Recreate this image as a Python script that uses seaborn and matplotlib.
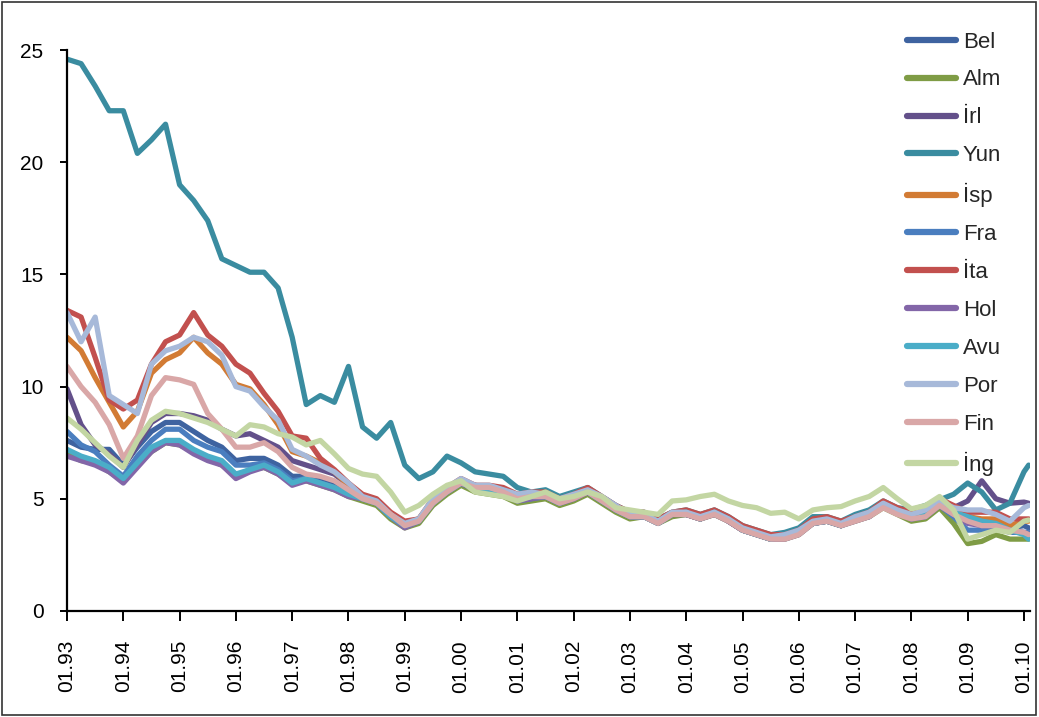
import numpy as np
import pandas as pd
import matplotlib
matplotlib.use("Agg")
import matplotlib.pyplot as plt
from matplotlib.patches import Rectangle
import seaborn as sns

# Quarterly observation dates (Jan/Apr/Jul/Oct) plus February 2010
dates = list(pd.date_range("1993-01-01", "2010-01-01", freq="QS")) + [pd.Timestamp("2010-02-01")]

countries = ["Bel", "Alm", "İrl", "Yun", "İsp", "Fra", "İta", "Hol", "Avu", "Por", "Fin", "İng"]

# 10-year government bond yields (%), one value per date above
bel = [7.6, 7.3, 7.2, 7.2,  6.5, 7.3, 8.0, 8.4,  8.4, 8.0, 7.6, 7.3,  6.7, 6.8, 6.8, 6.5,
       6.0, 6.0, 5.8, 5.6,  5.3, 5.1, 4.9, 4.3,  3.9, 4.1, 4.9, 5.4,  5.8, 5.6, 5.5, 5.4,
       5.1, 5.2, 5.2, 4.9,  5.1, 5.4, 5.0, 4.6,  4.2, 4.3, 4.0, 4.3,  4.4, 4.1, 4.4, 4.0,
       3.6, 3.5, 3.3, 3.3,  3.5, 4.0, 4.1, 3.9,  4.1, 4.3, 4.8, 4.4,  4.2, 4.3, 4.8, 4.4,
       4.2, 4.0, 4.0, 3.7,  3.8, 3.7]
alm = [7.0, 6.7, 6.6, 6.2,  5.8, 6.5, 7.1, 7.5,  7.4, 7.1, 6.8, 6.5,  6.0, 6.3, 6.4, 6.1,
       5.7, 5.8, 5.6, 5.4,  5.1, 4.9, 4.7, 4.1,  3.7, 3.9, 4.7, 5.2,  5.6, 5.3, 5.2, 5.1,
       4.8, 4.9, 5.0, 4.7,  4.9, 5.2, 4.8, 4.4,  4.1, 4.2, 3.9, 4.2,  4.3, 4.1, 4.3, 4.0,
       3.6, 3.4, 3.2, 3.2,  3.4, 3.9, 4.0, 3.8,  4.0, 4.2, 4.6, 4.3,  4.0, 4.1, 4.6, 3.9,
       3.0, 3.1, 3.4, 3.2,  3.2, 3.2]
irl = [9.9, 8.3, 7.4, 7.0,  6.4, 7.4, 8.4, 8.8,  8.8, 8.7, 8.5, 8.1,  7.8, 7.9, 7.6, 7.3,
       6.7, 6.5, 6.3, 6.1,  5.6, 5.1, 4.9, 4.3,  3.8, 4.0, 4.9, 5.3,  5.7, 5.5, 5.5, 5.3,
       5.0, 5.1, 5.1, 4.8,  5.0, 5.3, 4.9, 4.5,  4.2, 4.2, 3.9, 4.3,  4.3, 4.1, 4.3, 4.0,
       3.6, 3.4, 3.2, 3.3,  3.5, 3.9, 4.0, 3.8,  4.1, 4.3, 4.7, 4.4,  4.3, 4.4, 4.8, 4.6,
       4.9, 5.8, 5.0, 4.8,  4.85, 4.8]
yun = [24.6, 24.4, 23.4, 22.3,  22.3, 20.4, 21.0, 21.7,  19.0, 18.3, 17.4, 15.7,  15.4, 15.1, 15.1, 14.4,
       12.2, 9.2, 9.6, 9.3,  10.9, 8.2, 7.7, 8.4,  6.5, 5.9, 6.2, 6.9,  6.6, 6.2, 6.1, 6.0,
       5.5, 5.3, 5.4, 5.1,  5.3, 5.5, 5.1, 4.7,  4.4, 4.4, 4.1, 4.4,  4.5, 4.3, 4.5, 4.2,
       3.8, 3.6, 3.4, 3.5,  3.7, 4.2, 4.2, 4.0,  4.3, 4.5, 4.9, 4.6,  4.5, 4.7, 4.95, 5.2,
       5.7, 5.3, 4.5, 4.8,  6.2, 6.5]
isp = [12.2, 11.6, 10.4, 9.3,  8.2, 8.9, 10.6, 11.2,  11.5, 12.2, 11.5, 11.0,  10.1, 9.9, 9.2, 8.3,
       7.1, 6.9, 6.6, 6.2,  5.6, 5.0, 4.9, 4.3,  3.9, 4.1, 4.9, 5.4,  5.8, 5.5, 5.5, 5.3,
       5.1, 5.2, 5.2, 4.9,  5.1, 5.3, 5.0, 4.6,  4.2, 4.3, 4.0, 4.3,  4.3, 4.1, 4.4, 4.0,
       3.6, 3.4, 3.2, 3.3,  3.5, 3.9, 4.0, 3.8,  4.1, 4.3, 4.7, 4.4,  4.2, 4.3, 4.8, 4.5,
       4.2, 4.1, 4.1, 3.8,  4.0, 4.0]
fra = [8.0, 7.4, 7.1, 6.5,  6.0, 6.9, 7.6, 8.1,  8.1, 7.6, 7.3, 7.1,  6.5, 6.5, 6.6, 6.3,
       5.8, 5.9, 5.7, 5.5,  5.2, 5.0, 4.8, 4.2,  3.8, 4.0, 4.8, 5.3,  5.7, 5.4, 5.3, 5.2,
       4.9, 5.0, 5.1, 4.8,  5.0, 5.3, 4.9, 4.5,  4.2, 4.2, 4.0, 4.3,  4.3, 4.1, 4.4, 4.0,
       3.6, 3.4, 3.2, 3.3,  3.5, 3.9, 4.0, 3.8,  4.1, 4.2, 4.7, 4.4,  4.1, 4.2, 4.7, 4.2,
       3.6, 3.6, 3.7, 3.5,  3.5, 3.5]
ita = [13.4, 13.1, 11.3, 9.4,  9.0, 9.4, 11.0, 12.0,  12.3, 13.3, 12.3, 11.8,  11.0, 10.6, 9.7, 8.9,
       7.8, 7.7, 6.8, 6.3,  5.7, 5.2, 5.0, 4.4,  4.0, 4.1, 5.0, 5.5,  5.9, 5.6, 5.6, 5.5,
       5.2, 5.3, 5.3, 5.0,  5.2, 5.5, 5.1, 4.7,  4.4, 4.4, 4.1, 4.4,  4.5, 4.3, 4.5, 4.2,
       3.8, 3.6, 3.4, 3.4,  3.6, 4.1, 4.2, 4.0,  4.2, 4.4, 4.9, 4.6,  4.4, 4.6, 5.0, 4.7,
       4.4, 4.4, 4.4, 4.1,  4.1, 4.1]
hol = [6.9, 6.7, 6.5, 6.2,  5.7, 6.4, 7.1, 7.5,  7.4, 7.0, 6.7, 6.5,  5.9, 6.2, 6.4, 6.1,
       5.6, 5.8, 5.6, 5.4,  5.1, 5.0, 4.8, 4.2,  3.7, 4.0, 4.8, 5.3,  5.7, 5.4, 5.3, 5.2,
       4.9, 5.0, 5.1, 4.8,  5.0, 5.3, 4.9, 4.5,  4.2, 4.2, 3.9, 4.3,  4.3, 4.1, 4.4, 4.0,
       3.6, 3.4, 3.2, 3.2,  3.4, 3.9, 4.0, 3.8,  4.0, 4.2, 4.7, 4.4,  4.1, 4.2, 4.7, 4.3,
       3.9, 3.8, 3.8, 3.6,  3.5, 3.4]
avu = [7.2, 6.9, 6.7, 6.4,  5.9, 6.6, 7.3, 7.6,  7.6, 7.2, 6.9, 6.7,  6.1, 6.3, 6.5, 6.2,
       5.7, 5.9, 5.7, 5.5,  5.2, 5.0, 4.8, 4.2,  3.8, 4.0, 4.8, 5.3,  5.7, 5.5, 5.4, 5.3,
       5.0, 5.1, 5.1, 4.8,  5.1, 5.3, 4.9, 4.5,  4.2, 4.2, 3.9, 4.3,  4.4, 4.1, 4.4, 4.1,
       3.6, 3.4, 3.2, 3.3,  3.5, 3.9, 4.0, 3.8,  4.1, 4.3, 4.7, 4.4,  4.2, 4.3, 4.7, 4.4,
       4.2, 4.0, 3.9, 3.6,  3.4, 3.2]
por = [13.3, 12.0, 13.1, 9.6,  9.2, 8.8, 11.0, 11.6,  11.8, 12.2, 12.0, 11.4,  10.0, 9.8, 9.1, 8.5,
       7.2, 6.9, 6.5, 6.2,  5.7, 5.1, 4.9, 4.3,  3.9, 4.1, 5.0, 5.5,  5.9, 5.6, 5.6, 5.4,
       5.2, 5.3, 5.2, 5.0,  5.2, 5.4, 5.1, 4.7,  4.3, 4.3, 4.0, 4.4,  4.4, 4.2, 4.4, 4.1,
       3.7, 3.5, 3.3, 3.4,  3.6, 4.0, 4.1, 3.9,  4.2, 4.4, 4.8, 4.5,  4.3, 4.5, 4.9, 4.6,
       4.5, 4.5, 4.3, 4.0,  4.6, 4.7]
fin = [10.9, 10.0, 9.3, 8.3,  6.8, 7.8, 9.6, 10.4,  10.3, 10.1, 8.8, 8.1,  7.3, 7.3, 7.5, 7.1,
       6.4, 6.1, 6.0, 5.8,  5.4, 5.0, 4.8, 4.3,  3.8, 4.0, 4.8, 5.3,  5.7, 5.5, 5.5, 5.3,
       5.0, 5.1, 5.1, 4.8,  5.0, 5.3, 4.9, 4.5,  4.2, 4.2, 3.9, 4.3,  4.3, 4.1, 4.3, 4.0,
       3.6, 3.4, 3.2, 3.2,  3.4, 3.9, 4.0, 3.8,  4.0, 4.2, 4.6, 4.3,  4.1, 4.2, 4.7, 4.3,
       4.0, 3.8, 3.8, 3.6,  3.5, 3.4]
ing = [8.6, 8.1, 7.5, 6.9,  6.4, 7.6, 8.5, 8.9,  8.8, 8.6, 8.4, 8.1,  7.8, 8.3, 8.2, 7.9,
       7.75, 7.4, 7.6, 7.0,  6.35, 6.1, 6.0, 5.3,  4.4, 4.7, 5.2, 5.6,  5.8, 5.3, 5.2, 5.1,
       4.9, 5.1, 5.3, 5.0,  5.1, 5.3, 5.1, 4.6,  4.5, 4.4, 4.3, 4.9,  4.95, 5.1, 5.2, 4.9,
       4.7, 4.6, 4.35, 4.4,  4.1, 4.5, 4.6, 4.65,  4.9, 5.1, 5.5, 5.0,  4.55, 4.7, 5.1, 4.5,
       3.2, 3.4, 3.6, 3.5,  4.0, 4.05]

series = [bel, alm, irl, yun, isp, fra, ita, hol, avu, por, fin, ing]

colors = ["#3E63A0", "#7F9C45", "#63508A", "#3A8CA0", "#D27B34", "#4A7EBF",
          "#C2504E", "#8366A8", "#4AADC8", "#A7B9D9", "#D9A7A7", "#C3D6A3"]

tick_years = list(range(1993, 2011))
tick_labels = [f"01.{y % 100:02d}" for y in tick_years]

# Long-form table for seaborn
t = np.array([d.year + (d.month - 1) / 12 for d in dates])
frames = [pd.DataFrame({"t": t, "yield": vals, "country": name})
          for name, vals in zip(countries, series)]
df = pd.concat(frames, ignore_index=True)

sns.set_theme(style="white")
plt.rcParams["font.family"] = ["Liberation Sans", "DejaVu Sans"]

fig = plt.figure(figsize=(10.39, 7.17), dpi=100)
ax = fig.add_axes([0.0645, 0.148, 0.927, 0.782])

sns.lineplot(data=df, x="t", y="yield", hue="country", hue_order=countries,
             palette=dict(zip(countries, colors)), linewidth=3.8,
             estimator=None, sort=True, ax=ax)

ax.set_xlim(1993, 2010.11)
ax.set_ylim(0, 25)
ax.set_yticks([0, 5, 10, 15, 20, 25])
ax.set_xticks(tick_years)
ax.set_xticklabels(tick_labels, rotation=90)
ax.set_xlabel("")
ax.set_ylabel("")

for side in ["top", "right"]:
    ax.spines[side].set_visible(False)
for side in ["left", "bottom"]:
    ax.spines[side].set_color("black")
    ax.spines[side].set_linewidth(1.6)

ax.tick_params(axis="y", direction="out", length=5, width=1.4, color="black",
               labelsize=15, labelcolor="black", pad=12, left=True)
ax.tick_params(axis="x", direction="out", length=7, width=1.4, color="black",
               labelsize=15, labelcolor="black", pad=14, bottom=True)

leg = ax.legend(loc="upper right", bbox_to_anchor=(0.979, 1.049), frameon=False,
                fontsize=16, handlelength=2.2, handletextpad=0.3, labelspacing=0.76,
                borderaxespad=0.0)
for line in leg.get_lines():
    line.set_linewidth(4.5)
    line.set_solid_capstyle("round")

# Thin frame around the whole figure
fig.patches.append(Rectangle((0.002, 0.003), 0.995, 0.994, transform=fig.transFigure,
                             fill=False, edgecolor="#333333", linewidth=1.2))

fig.savefig("out.png", dpi=100)
